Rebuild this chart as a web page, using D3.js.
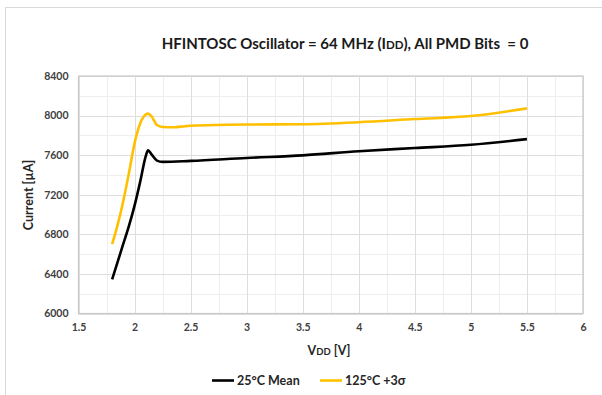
<!DOCTYPE html>
<html><head><meta charset="utf-8">
<script src="https://cdn.jsdelivr.net/npm/d3@7"></script>
<style>
body{margin:0;background:#fff;}
svg{display:block;font-family:Lato,"Open Sans",sans-serif;}
</style></head>
<body>
<svg id="c" width="602" height="395"></svg>
<script>
const seriesNames = ["25°C Mean", "125°C +3σ"];
const seriesColors = ["#000000", "#FFC000"];
const meanVdd = [1.8, 1.9, 1.95, 2.0, 2.05, 2.1, 2.12, 2.15, 2.2, 2.25, 2.5, 3.0, 3.5, 4.0, 4.5, 5.0, 5.5];
const meanIdd = [6345, 6705, 6885, 7090, 7330, 7590, 7650, 7610, 7545, 7532, 7542, 7572, 7598, 7640, 7672, 7705, 7762];
const hotVdd = [1.8, 1.85, 1.9, 1.95, 2.0, 2.05, 2.1, 2.12, 2.15, 2.2, 2.25, 2.35, 2.45, 2.5, 3.0, 3.5, 4.0, 4.5, 5.0, 5.5];
const hotIdd = [6700, 6900, 7140, 7420, 7720, 7920, 8010, 8020, 7995, 7905, 7885, 7882, 7893, 7897, 7910, 7913, 7933, 7965, 7995, 8073];
const xTicks = [1.5, 2, 2.5, 3, 3.5, 4, 4.5, 5, 5.5, 6];
const yTicks = [6000, 6400, 6800, 7200, 7600, 8000, 8400];

const svg = d3.select("#c");
// outer frame
svg.append("rect").attr("x",5.5).attr("y",7.5).attr("width",600).attr("height",400)
  .attr("fill","none").attr("stroke","#d9d9d9");

const L=78.5, R=583, T=76, B=313.5;
const x = d3.scaleLinear().domain([1.5,6]).range([L,R]);
const y = d3.scaleLinear().domain([6000,8400]).range([B,T]);

const g = svg.append("g");
// minor grid
const xMinor = d3.range(1.75, 6, 0.5);
const yMinor = d3.range(6200, 8400, 400);
g.selectAll(".xm").data(xMinor).join("line")
  .attr("x1",d=>Math.round(x(d))+0.5).attr("x2",d=>Math.round(x(d))+0.5)
  .attr("y1",T).attr("y2",B).attr("stroke","#eeeeee");
g.selectAll(".ym").data(yMinor).join("line")
  .attr("y1",d=>Math.round(y(d))+0.5).attr("y2",d=>Math.round(y(d))+0.5)
  .attr("x1",L).attr("x2",R).attr("stroke","#eeeeee");
// major grid
g.selectAll(".xg").data(xTicks).join("line")
  .attr("x1",d=>Math.round(x(d))+0.5).attr("x2",d=>Math.round(x(d))+0.5)
  .attr("y1",T).attr("y2",B).attr("stroke","#dedede");
g.selectAll(".yg").data(yTicks).join("line")
  .attr("y1",d=>Math.round(y(d))+0.5).attr("y2",d=>Math.round(y(d))+0.5)
  .attr("x1",L).attr("x2",R).attr("stroke","#dedede");
// plot border
svg.append("rect").attr("x",L).attr("y",T).attr("width",R-L).attr("height",B-T)
  .attr("fill","none").attr("stroke","#c8c8c8").attr("stroke-width",1.2);

// axes (labels only)
const xAxis = d3.axisBottom(x).tickValues(xTicks).tickSize(0).tickPadding(10).tickFormat(d3.format("~g"));
const yAxis = d3.axisLeft(y).tickValues(yTicks).tickSize(0).tickPadding(10).tickFormat(d3.format("d"));
const gx = svg.append("g").attr("transform",`translate(0,${B})`).call(xAxis);
const gy = svg.append("g").attr("transform",`translate(${L},0)`).call(yAxis);
[gx,gy].forEach(a=>{a.select(".domain").remove();
  a.selectAll("text").attr("font-family","Lato,sans-serif").attr("font-size",10.5).attr("font-weight","bold").attr("fill","#404040");});

// lines
const line = d3.line().x(d=>x(d[0])).y(d=>y(d[1])).curve(d3.curveMonotoneX);
const meanData = meanVdd.map((v,i)=>[v,meanIdd[i]]);
const hotData = hotVdd.map((v,i)=>[v,hotIdd[i]]);
svg.append("path").attr("d",line(meanData)).attr("fill","none").attr("stroke",seriesColors[0]).attr("stroke-width",2.6).attr("stroke-linejoin","round");
svg.append("path").attr("d",line(hotData)).attr("fill","none").attr("stroke",seriesColors[1]).attr("stroke-width",2.6).attr("stroke-linejoin","round");

// title
const t = svg.append("text").attr("x",345).attr("y",49).attr("text-anchor","middle")
  .attr("font-size",15).attr("font-weight","bold").attr("fill","#1a1a1a");
t.append("tspan").text("HFINTOSC Oscillator = 64 MHz (I");
t.append("tspan").attr("font-size",11.5).text("DD");
t.append("tspan").text("), All PMD Bits \u00a0= 0");

// x title
const xt = svg.append("text").attr("x",329).attr("y",355).attr("text-anchor","middle")
  .attr("font-size",12.5).attr("font-weight","bold").attr("fill","#262626");
xt.append("tspan").text("V");
xt.append("tspan").attr("font-size",9.5).text("DD");
xt.append("tspan").text(" [V]");

// y title
svg.append("text").attr("transform","translate(33,195) rotate(-90)").attr("text-anchor","middle")
  .attr("font-size",12.5).attr("font-weight","bold").attr("fill","#262626").text("Current [µA]");

// legend
const leg = [{x:212},{x:320}];
seriesNames.forEach((n,i)=>{
  svg.append("line").attr("x1",leg[i].x).attr("x2",leg[i].x+22).attr("y1",380.5).attr("y2",380.5)
    .attr("stroke",seriesColors[i]).attr("stroke-width",2.6);
  svg.append("text").attr("x",leg[i].x+25).attr("y",385).attr("font-size",12.5).attr("font-weight","bold")
    .attr("fill","#262626").text(n);
});
</script>
</body></html>
